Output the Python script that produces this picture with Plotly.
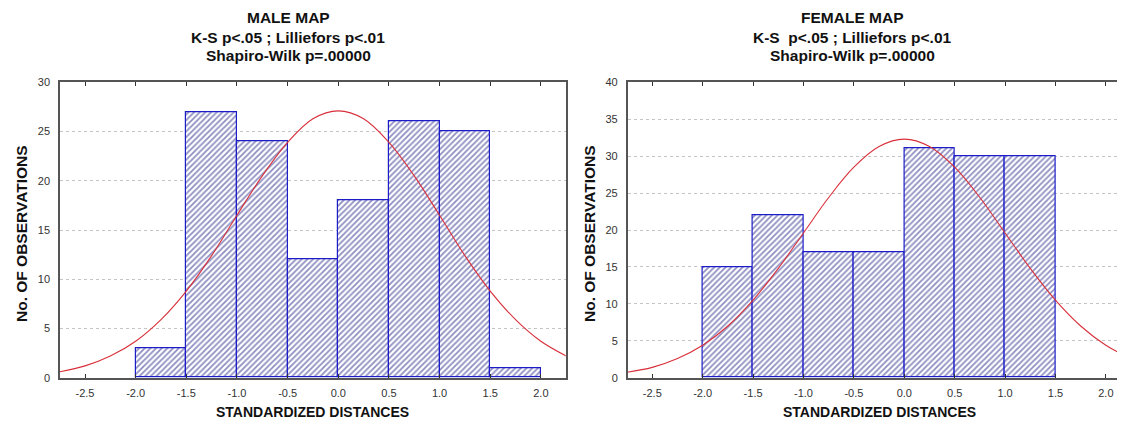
import plotly.graph_objects as go

# ---- data ----
bin_centers = [-1.75, -1.25, -0.75, -0.25, 0.25, 0.75, 1.25, 1.75]
male_counts = [3, 27, 24, 12, 18, 26, 25, 1]
female_centers = [-1.75, -1.25, -0.75, -0.25, 0.25, 0.75, 1.25]
female_counts = [15, 22, 17, 17, 31, 30, 30]

curve_x = [-2.75, -2.5, -2.25, -2.0, -1.75, -1.5, -1.25, -1.0, -0.75, -0.5, -0.25,
           0.0, 0.25, 0.5, 0.75, 1.0, 1.25, 1.5, 1.75, 2.0, 2.25]
male_curve = [0.6, 1.2, 2.2, 3.7, 5.9, 8.8, 12.4, 16.5, 20.5, 23.9, 26.3,
              27.1, 26.3, 23.9, 20.5, 16.5, 12.4, 8.8, 5.9, 3.7, 2.2]
female_curve = [0.74, 1.4, 2.6, 4.4, 7.0, 10.5, 14.8, 19.6, 24.4, 28.5, 31.3,
                32.3, 31.3, 28.5, 24.4, 19.6, 14.8, 10.5, 7.0, 4.4, 2.6]

x_tickvals = [-2.5, -2.0, -1.5, -1.0, -0.5, 0.0, 0.5, 1.0, 1.5, 2.0]
x_ticktext = ["-2.5", "-2.0", "-1.5", "-1.0", "-0.5", "0.0", "0.5", "1.0", "1.5", "2.0"]

titles = [
    ["MALE MAP", "K-S p<.05 ; Lilliefors p<.01", "Shapiro-Wilk p=.00000"],
    ["FEMALE MAP", "K-S  p<.05 ; Lilliefors p<.01", "Shapiro-Wilk p=.00000"],
]

# page has an 8px body margin; work in page pixels and subtract it
OFF = 8
W, H = 1125 - OFF, 425 - OFF
FONT = "Liberation Sans, Arial, sans-serif"
BAR_LINE = "#1c1cc8"
HATCH = "#1e1e84"
CURVE = "#d8303a"
AXIS = "#555555"


def px(x):
    return (x - OFF) / W


def py(y):
    return (H - (y - OFF)) / H


fig = go.Figure()


def add_hist(xs, ys, xa, ya):
    fig.add_trace(go.Bar(
        x=xs, y=ys, width=0.5, xaxis=xa, yaxis=ya,
        marker=dict(color="white",
                    line=dict(color=BAR_LINE, width=1.2),
                    pattern=dict(shape="/", fgcolor=HATCH, bgcolor="white",
                                 size=4, solidity=0.45)),
        showlegend=False, hoverinfo="skip"))


def add_curve(ys, xa, ya):
    fig.add_trace(go.Scatter(
        x=curve_x, y=ys, mode="lines", xaxis=xa, yaxis=ya,
        line=dict(color=CURVE, width=1.1, shape="spline"),
        showlegend=False, hoverinfo="skip", cliponaxis=True))


add_hist(bin_centers, male_counts, "x", "y")
add_curve(male_curve, "x", "y")
add_hist(female_centers, female_counts, "x2", "y2")
add_curve(female_curve, "x2", "y2")

ydom = [py(377.7), py(82.3)]
dom1 = [px(60), px(565.7)]
dom2 = [px(627.7), 1.0]

xcommon = dict(tickvals=x_tickvals, ticktext=x_ticktext, ticks="inside", ticklen=4,
               tickcolor="#333", showline=True, linecolor=AXIS, linewidth=1.5,
               mirror="ticks", showgrid=False, zeroline=False, automargin=False,
               tickfont=dict(family=FONT, size=11, color="#333"),
               ticklabelstandoff=4)
ycommon = dict(dtick=5, showline=True, linecolor=AXIS, linewidth=1.5, mirror=True,
               showgrid=True, gridcolor="#c4c4c4", griddash="dot", gridwidth=1,
               zeroline=False, ticks="", automargin=False,
               tickfont=dict(family=FONT, size=11, color="#333"),
               ticklabelstandoff=6)

fig.update_layout(
    width=W, height=H, margin=dict(l=0, r=0, t=0, b=0, autoexpand=False),
    paper_bgcolor="white", plot_bgcolor="white", bargap=0,
    xaxis=dict(domain=dom1, range=[-2.747, 2.245], anchor="y", **xcommon),
    yaxis=dict(domain=ydom, range=[0, 30], anchor="x", **ycommon),
    xaxis2=dict(domain=dom2, range=[-2.744, 2.19], anchor="y2", **xcommon),
    yaxis2=dict(domain=ydom, range=[0, 40], anchor="x2", **ycommon),
)

ann = []
title_x = [288, 852]
for tx, lines in zip(title_x, titles):
    for i, t in enumerate(lines):
        ann.append(dict(text="<b>%s</b>" % t, x=px(tx), y=py(18 + 19 * i),
                        xref="paper", yref="paper", showarrow=False,
                        xanchor="center", yanchor="middle",
                        font=dict(family=FONT, size=15.5, color="#111")))
for cx in [312.9, 879]:
    ann.append(dict(text="<b>STANDARDIZED DISTANCES</b>", x=px(cx), y=py(412),
                    xref="paper", yref="paper", showarrow=False,
                    xanchor="center", yanchor="middle",
                    font=dict(family=FONT, size=14, color="#111")))
for cx in [22, 590]:
    ann.append(dict(text="<b>No. OF OBSERVATIONS</b>", x=px(cx), y=py(234),
                    xref="paper", yref="paper", showarrow=False, textangle=-90,
                    xanchor="center", yanchor="middle",
                    font=dict(family=FONT, size=15.5, color="#111")))
fig.update_layout(annotations=ann)

fig.write_html("out.html")
